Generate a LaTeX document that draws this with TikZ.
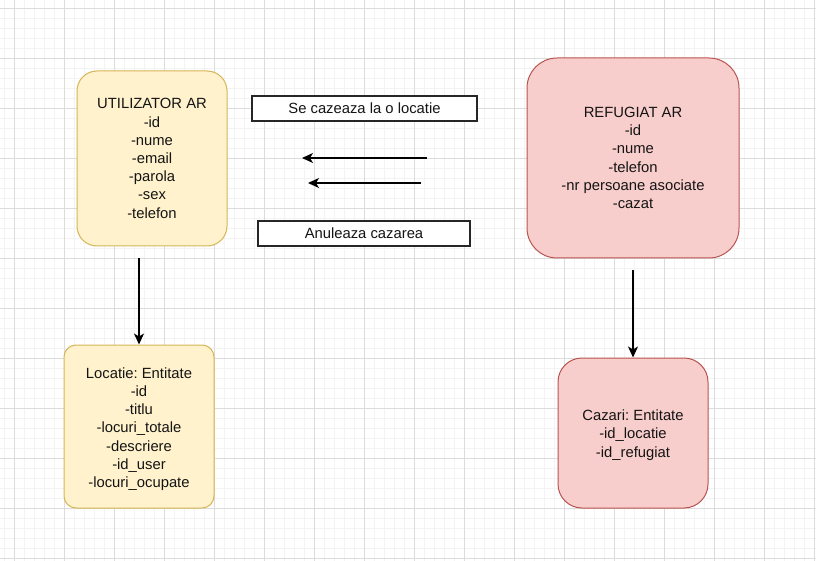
\documentclass[tikz,border=0pt]{standalone}
\usepackage{fontspec}
\setmainfont{Liberation Sans}
\frenchspacing
\usetikzlibrary{arrows.meta}
\definecolor{ylwfill}{HTML}{FFF2CC}
\definecolor{ylwline}{HTML}{D6B656}
\definecolor{redfill}{HTML}{F8CECC}
\definecolor{redline}{HTML}{B85450}
\definecolor{gridminor}{HTML}{F3F3F3}
\definecolor{gridmajor}{HTML}{DCDCDC}
\definecolor{txt}{HTML}{141414}
\tikzset{
  ent/.style={rectangle, align=center, inner sep=0pt, line width=1pt, text=txt,
    font=\fontsize{14.8}{18.2}\selectfont},
  ylw/.style={ent, fill=ylwfill, draw=ylwline},
  rd/.style={ent, fill=redfill, draw=redline},
  lbl/.style={rectangle, draw=black!85, fill=white, line width=1.4pt, inner sep=0pt,
    text=txt, font=\fontsize{14.8}{18.2}\selectfont},
  conn/.style={line width=1.3pt, -{Stealth[length=11pt,width=10pt,inset=3pt]}}
}
\begin{document}
\begin{tikzpicture}[x=1pt,y=-1pt]
\useasboundingbox (0,0) rectangle (816,561);
\fill[white] (0,0) rectangle (816,561);
% grid
\foreach \x in {4,14,...,814} \draw[gridminor, line width=0.8pt] (\x,0) -- (\x,561);
\foreach \y in {8,18,...,558} \draw[gridminor, line width=0.8pt] (0,\y) -- (816,\y);
\foreach \x in {14,64,...,814} \draw[gridmajor, line width=0.8pt] (\x,0) -- (\x,561);
\foreach \y in {8,58,...,558} \draw[gridmajor, line width=0.8pt] (0,\y) -- (816,\y);

% entities
\node[ylw, minimum width=150pt, minimum height=175pt, rounded corners=20pt] (u) at (152,158.5)
  {UTILIZATOR AR\\-id\\-nume\\-email\\-parola\\-sex\\-telefon};
\node[rd, minimum width=212pt, minimum height=200pt, rounded corners=30pt] (r) at (633,158)
  {REFUGIAT AR\\-id\\-nume\\-telefon\\-nr persoane asociate\\-cazat};
\node[ylw, minimum width=150pt, minimum height=163pt, rounded corners=12pt] (loc) at (139,426.5)
  {};
\node[ent, anchor=center] (loct) at (139,429)
  {Locatie: Entitate\\-id\\-titlu\\-locuri\_totale\\-descriere\\-id\_user\\-locuri\_ocupate};
\node[rd, minimum width=150pt, minimum height=150pt, rounded corners=24pt] (caz) at (633,433)
  {};
\node[ent, anchor=center] (cazt) at (633,435)
  {Cazari: Entitate\\-id\_locatie\\-id\_refugiat};

% labels
\node[lbl, minimum width=225pt, minimum height=25pt] (se) at (364.5,108.5) {Se cazeaza la o locatie};
\node[lbl, minimum width=212pt, minimum height=25pt] (an) at (364,233.5) {Anuleaza cazarea};

% connectors
\coordinate (a1s) at (427,158);
\coordinate (a1e) at (302,158);
\coordinate (a2s) at (421,183);
\coordinate (a2e) at (308,183);
\coordinate (ua) at (139,258);
\coordinate (ra) at (633,270);
\draw[conn] (a1s) -- (a1e);
\draw[conn] (a2s) -- (a2e);
\draw[conn] (ua) -- (loc.north);
\draw[conn] (ra) -- (caz.north);
\end{tikzpicture}
\end{document}
